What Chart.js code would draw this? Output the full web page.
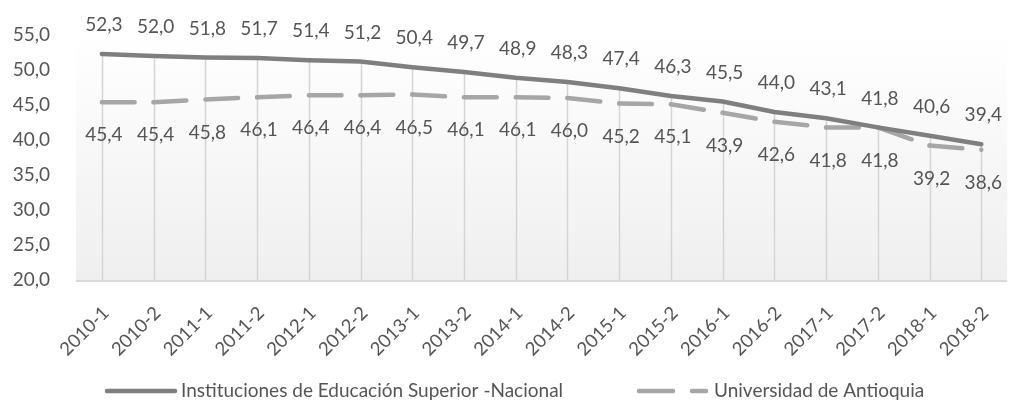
<!DOCTYPE html>
<html>
<head>
<meta charset="utf-8">
<script src="https://cdn.jsdelivr.net/npm/chart.js@4.4.1/dist/chart.umd.min.js"></script>
<style>
  html, body { margin: 0; padding: 0; background: #ffffff; }
  #wrap { width: 1011px; height: 405px; position: relative; }
</style>
</head>
<body>
<div id="wrap"><canvas id="c" width="1011" height="405"></canvas></div>
<script>
const categories = ["2010-1","2010-2","2011-1","2011-2","2012-1","2012-2","2013-1","2013-2","2014-1","2014-2","2015-1","2015-2","2016-1","2016-2","2017-1","2017-2","2018-1","2018-2"];
const nacional = [52.3,52.0,51.8,51.7,51.4,51.2,50.4,49.7,48.9,48.3,47.4,46.3,45.5,44.0,43.1,41.8,40.6,39.4];
const antioquia = [45.4,45.4,45.8,46.1,46.4,46.4,46.5,46.1,46.1,46.0,45.2,45.1,43.9,42.6,41.8,41.8,39.2,38.6];
const seriesNames = ["Instituciones de Educación Superior -Nacional", "Universidad de Antioquia"];
const yTicks = [20,25,30,35,40,45,50,55];

const FONT = "Lato, 'Open Sans', sans-serif";
const TEXT = "#555555";
const C1 = "#7f7f7f";
const C2 = "#a6a6a6";
const fmt = v => v.toFixed(1).replace(".", ",");

const bgPlugin = {
  id: "bg",
  beforeDraw(chart) {
    const {ctx, chartArea: a} = chart;
    const g = ctx.createLinearGradient(0, a.top, 0, a.bottom);
    g.addColorStop(0, "#ffffff");
    g.addColorStop(1, "#efefef");
    ctx.save();
    ctx.fillStyle = g;
    ctx.fillRect(a.left, a.top, a.right - a.left, a.bottom - a.top);
    ctx.restore();
  },
  beforeDatasetsDraw(chart) {
    // drop lines from highest series value to category axis
    const {ctx, chartArea: a, scales: {x, y}} = chart;
    ctx.save();
    ctx.strokeStyle = "#d4d4d4";
    ctx.lineWidth = 1.5;
    categories.forEach((c, i) => {
      const px = Math.round(x.getPixelForValue(i)) + 0.5;
      const top = y.getPixelForValue(Math.max(nacional[i], antioquia[i]));
      ctx.beginPath();
      ctx.moveTo(px, top);
      ctx.lineTo(px, a.bottom);
      ctx.stroke();
    });
    // category axis line
    ctx.strokeStyle = "#d9d9d9";
    ctx.lineWidth = 2;
    ctx.beginPath();
    ctx.moveTo(a.left, a.bottom + 1);
    ctx.lineTo(a.right, a.bottom + 1);
    ctx.stroke();
    ctx.restore();
  }
};

const labelPlugin = {
  id: "vlabels",
  afterDatasetsDraw(chart) {
    const {ctx} = chart;
    ctx.save();
    ctx.font = "19px " + FONT;
    ctx.fillStyle = TEXT;
    ctx.textAlign = "center";
    ctx.textBaseline = "middle";
    chart.data.datasets.forEach((ds, di) => {
      const meta = chart.getDatasetMeta(di);
      meta.data.forEach((pt, i) => {
        const dy = di === 0 ? -29 : 33;
        ctx.fillText(fmt(ds.data[i]), pt.x + 2, pt.y + dy);
      });
    });
    ctx.restore();
  }
};

const legendPlugin = {
  id: "mylegend",
  afterDraw(chart) {
    const {ctx} = chart;
    const ly = 391;
    ctx.save();
    ctx.lineCap = "round";
    ctx.lineWidth = 4.5;
    // item 1
    ctx.strokeStyle = C1;
    ctx.beginPath(); ctx.moveTo(107, ly); ctx.lineTo(175, ly); ctx.stroke();
    // item 2
    ctx.strokeStyle = C2;
    ctx.beginPath(); ctx.moveTo(639, ly); ctx.lineTo(673, ly); ctx.stroke();
    ctx.beginPath(); ctx.moveTo(692, ly); ctx.lineTo(706, ly); ctx.stroke();
    ctx.font = "19px " + FONT;
    ctx.fillStyle = TEXT;
    ctx.textAlign = "left";
    ctx.textBaseline = "middle";
    ctx.fillText(seriesNames[0], 181, ly);
    ctx.fillText(seriesNames[1], 714, ly);
    ctx.restore();
  }
};

new Chart(document.getElementById("c"), {
  type: "line",
  data: {
    labels: categories,
    datasets: [
      {
        label: seriesNames[0],
        data: nacional,
        borderColor: C1,
        borderWidth: 4.5,
        pointRadius: 0,
        tension: 0,
        borderCapStyle: "round",
        borderJoinStyle: "round",
        fill: false
      },
      {
        label: seriesNames[1],
        data: antioquia,
        borderColor: C2,
        borderWidth: 4.5,
        pointRadius: 0,
        tension: 0,
        borderCapStyle: "round",
        borderJoinStyle: "round",
        fill: false,
        segment: {
          borderDash: (c) => {
            const len = Math.hypot(c.p1.x - c.p0.x, c.p1.y - c.p0.y);
            return [Math.max(len - 19, 1), 19];
          }
        }
      }
    ]
  },
  options: {
    responsive: false,
    animation: false,
    devicePixelRatio: 1,
    layout: { padding: { top: 35, left: 0, right: 0, bottom: 0 } },
    plugins: {
      legend: { display: false },
      tooltip: { enabled: false }
    },
    scales: {
      x: {
        offset: true,
        grid: { display: false },
        border: { display: false },
        ticks: {
          color: TEXT,
          font: { family: FONT, size: 18.5 },
          maxRotation: 45,
          minRotation: 45,
          autoSkip: false,
          padding: 14,
          labelOffset: 4
        },
        afterFit(s) { s.height = 125; }
      },
      y: {
        min: 20,
        max: 55,
        grid: { display: false },
        border: { display: false },
        afterBuildTicks(s) { s.ticks = yTicks.map(v => ({ value: v })); },
        ticks: {
          color: TEXT,
          font: { family: FONT, size: 19 },
          padding: 18,
          callback: (v) => fmt(v)
        },
        afterFit(s) { s.width = 76; }
      }
    }
  },
  plugins: [bgPlugin, labelPlugin, legendPlugin]
});
</script>
</body>
</html>
